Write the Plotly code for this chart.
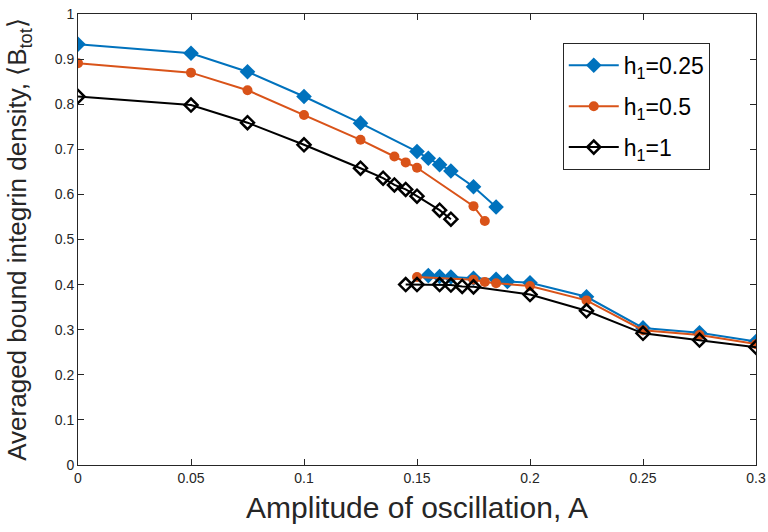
import plotly.graph_objects as go

# h1 = 0.25 (upper branch, lower branch)
a_025_up = [0, 0.05, 0.075, 0.1, 0.125, 0.15, 0.155, 0.16, 0.165, 0.175, 0.185]
b_025_up = [0.933, 0.913, 0.872, 0.817, 0.758, 0.695, 0.680, 0.666, 0.652, 0.617, 0.572]
a_025_lo = [0.155, 0.16, 0.165, 0.175, 0.185, 0.19, 0.2, 0.225, 0.25, 0.275, 0.3]
b_025_lo = [0.420, 0.418, 0.417, 0.414, 0.412, 0.407, 0.404, 0.373, 0.304, 0.293, 0.274]

# h1 = 0.5
a_05_up = [0, 0.05, 0.075, 0.1, 0.125, 0.14, 0.145, 0.15, 0.175, 0.18]
b_05_up = [0.891, 0.870, 0.831, 0.776, 0.721, 0.684, 0.671, 0.659, 0.574, 0.541]
a_05_lo = [0.15, 0.175, 0.18, 0.185, 0.2, 0.225, 0.25, 0.275, 0.3]
b_05_lo = [0.417, 0.411, 0.406, 0.403, 0.397, 0.365, 0.299, 0.288, 0.268]

# h1 = 1
a_1_up = [0, 0.05, 0.075, 0.1, 0.125, 0.135, 0.14, 0.145, 0.15, 0.16, 0.165]
b_1_up = [0.817, 0.798, 0.759, 0.710, 0.658, 0.636, 0.621, 0.611, 0.596, 0.565, 0.545]
a_1_lo = [0.145, 0.15, 0.16, 0.165, 0.17, 0.175, 0.2, 0.225, 0.25, 0.275, 0.3]
b_1_lo = [0.400, 0.400, 0.400, 0.399, 0.396, 0.395, 0.378, 0.342, 0.292, 0.277, 0.261]

x_ticks = [0, 0.05, 0.1, 0.15, 0.2, 0.25, 0.3]
x_ticklabels = ["0", "0.05", "0.1", "0.15", "0.2", "0.25", "0.3"]
y_ticks = [0, 0.1, 0.2, 0.3, 0.4, 0.5, 0.6, 0.7, 0.8, 0.9, 1]
y_ticklabels = ["0", "0.1", "0.2", "0.3", "0.4", "0.5", "0.6", "0.7", "0.8", "0.9", "1"]

series = [
    ("h<sub>1</sub>=0.25", a_025_up, b_025_up, a_025_lo, b_025_lo, "#0072BD",
     dict(symbol="diamond", size=12, color="#0072BD")),
    ("h<sub>1</sub>=0.5", a_05_up, b_05_up, a_05_lo, b_05_lo, "#D95319",
     dict(symbol="circle", size=10, color="#D95319")),
    ("h<sub>1</sub>=1", a_1_up, b_1_up, a_1_lo, b_1_lo, "#000000",
     dict(symbol="diamond-open", size=10, color="#000000", line=dict(width=2.5, color="#000000"))),
]

fig = go.Figure()
for name, xu, yu, xl, yl, col, mk in series:
    fig.add_trace(go.Scatter(
        x=xu + [None] + xl, y=yu + [None] + yl,
        mode="lines+markers", name=name, legendgroup=name,
        line=dict(color=col, width=2), marker=mk, connectgaps=False,
    ))

axis_common = dict(
    showline=True, linecolor="#262626", linewidth=1, mirror="ticks",
    ticks="inside", ticklen=6, tickcolor="#262626", showgrid=False, zeroline=False,
    automargin=False,
    tickfont=dict(family="Liberation Sans", size=14, color="#262626"),
)

fig.update_layout(
    width=768, height=532,
    margin=dict(l=78, r=12, t=14, b=67),
    paper_bgcolor="white", plot_bgcolor="white",
    font=dict(family="Liberation Sans", color="#262626"),
    xaxis=dict(range=[0, 0.3], tickvals=x_ticks, ticktext=x_ticklabels,
               title=dict(text="Amplitude of oscillation, A", font=dict(size=30), standoff=12),
               **axis_common),
    yaxis=dict(range=[0, 1], tickvals=y_ticks, ticktext=y_ticklabels,
               title=dict(text="Averaged bound integrin density, ⟨B<sub>tot</sub>⟩", font=dict(size=26), standoff=20),
               **axis_common),
    legend=dict(x=0.715, y=0.936, xanchor="left", yanchor="top",
                bgcolor="white", bordercolor="#262626", borderwidth=1,
                font=dict(size=23, color="#000000"), tracegroupgap=8, itemwidth=50),
    showlegend=True,
)

fig.write_html("out.html", config={"displayModeBar": False},
               post_script="document.body.style.margin='0px';document.body.style.padding='0px';")
